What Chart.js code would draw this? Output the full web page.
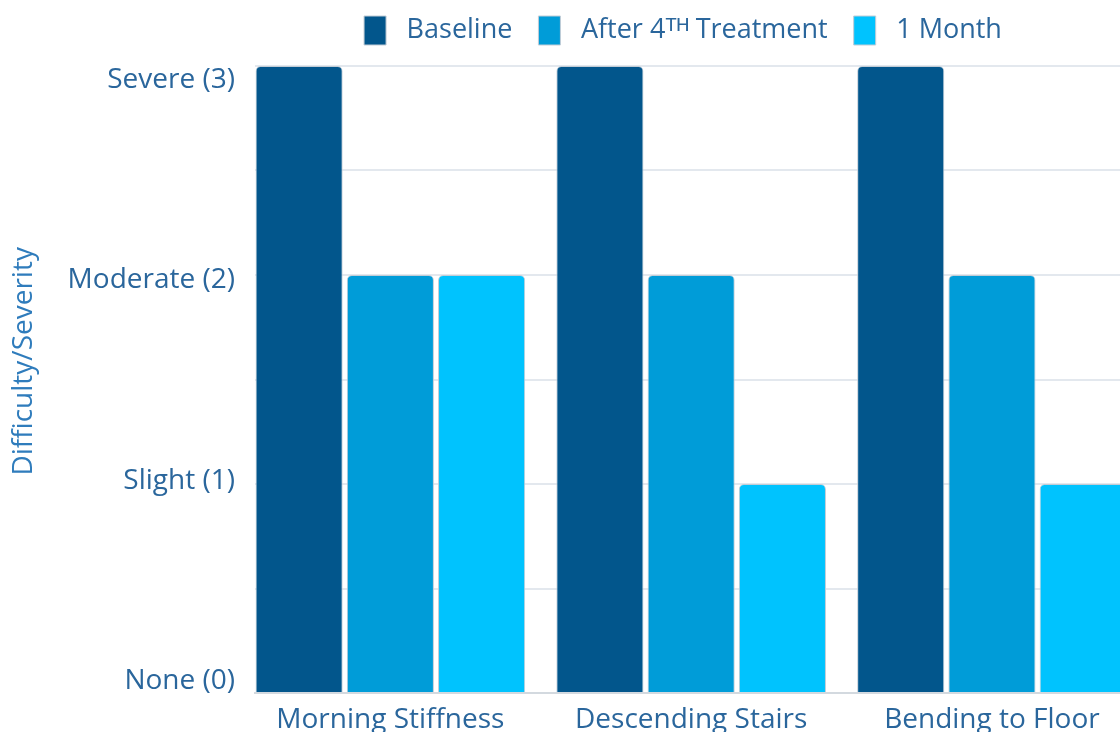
<!DOCTYPE html>
<html>
<head>
<meta charset="utf-8">
<script src="https://cdn.jsdelivr.net/npm/chart.js@4/dist/chart.umd.min.js"></script>
<style>
  html, body { margin: 0; padding: 0; background: #fff; overflow: hidden; }
  .chart-box { position: relative; width: 1380px; height: 732px; }
</style>
</head>
<body>
<div class="chart-box"><canvas id="chart"></canvas></div>
<script>
// data
const categories = ['Morning Stiffness', 'Descending Stairs', 'Bending to Floor'];
const seriesNames = ['Baseline', 'After 4\u1D40\u1D34 Treatment', '1 Month'];
const baseline = [3, 3, 3];
const afterFourth = [2, 2, 2];
const oneMonth = [2, 1, 1];
const severityLabels = ['None (0)', 'Slight (1)', 'Moderate (2)', 'Severe (3)'];

const colors = ['#02568c', '#009cd8', '#00c3fe'];
const textColor = '#2a669c';
const font = '"Open Sans", sans-serif';

const toPoints = arr => arr.map((v, i) => ({ x: i, y: v }));

const makeSet = (name, values, color) => ({
  label: name,
  data: toPoints(values),
  backgroundColor: color,
  borderColor: '#c2ccd6',
  borderWidth: 1,
  borderRadius: 5,
  categoryPercentage: 0.91,
  barPercentage: 0.955
});

// push the plot down a bit below the legend
const legendGap = {
  id: 'legendGap',
  beforeInit(chart) {
    const fit = chart.legend.fit;
    chart.legend.fit = function () {
      fit.bind(chart.legend)();
      this.height += 11;
    };
  }
};

new Chart(document.getElementById('chart'), {
  type: 'bar',
  data: {
    datasets: [
      makeSet(seriesNames[0], baseline, colors[0]),
      makeSet(seriesNames[1], afterFourth, colors[1]),
      makeSet(seriesNames[2], oneMonth, colors[2])
    ]
  },
  plugins: [legendGap],
  options: {
    responsive: true,
    maintainAspectRatio: false,
    animation: false,
    layout: { padding: { top: 4, right: 0, bottom: 0, left: 0 } },
    plugins: {
      tooltip: { enabled: false },
      legend: {
        position: 'top',
        labels: {
          boxWidth: 22,
          boxHeight: 29,
          padding: 12,
          color: textColor,
          font: { family: font, size: 27, weight: '400' },
          generateLabels: chart => {
            const items = Chart.defaults.plugins.legend.labels.generateLabels(chart);
            items.forEach(it => { it.text = ' ' + it.text + '  '; it.lineWidth = 1; it.strokeStyle = '#c2ccd6'; });
            return items;
          }
        }
      }
    },
    scales: {
      x: {
        type: 'linear',
        offset: false,
        min: -0.45,
        max: 3.29,
        grid: { display: false, drawTicks: false, offset: false },
        border: { display: true, color: '#d3d9df', width: 2 },
        ticks: {
          stepSize: 1,
          includeBounds: false,
          padding: 10,
          color: textColor,
          font: { family: font, size: 28, weight: '400' },
          callback: v => categories[v] ?? ''
        },
        afterFit: s => { s.height = 39; }
      },
      y: {
        min: 0,
        max: 3,
        grid: { color: '#e3e8ee', lineWidth: 2, drawTicks: false },
        border: { display: false },
        ticks: { display: false, stepSize: 0.5 },
        afterFit: s => { s.width = 0; }
      },
      yLabels: {
        type: 'linear',
        position: 'left',
        min: -0.06,
        max: 3.07,
        grid: { display: false, drawTicks: false },
        border: { display: false },
        ticks: {
          stepSize: 1,
          includeBounds: false,
          padding: 20,
          color: textColor,
          font: { family: font, size: 28, weight: '400' },
          callback: v => severityLabels[v] ?? ''
        },
        title: {
          display: true,
          text: '     Difficulty/Severity',
          color: '#2f7cbc',
          padding: { top: 7, bottom: 0 },
          font: { family: font, size: 28, weight: '400' }
        },
        afterFit: s => { s.width = 255; }
      }
    }
  }
});
</script>
</body>
</html>
